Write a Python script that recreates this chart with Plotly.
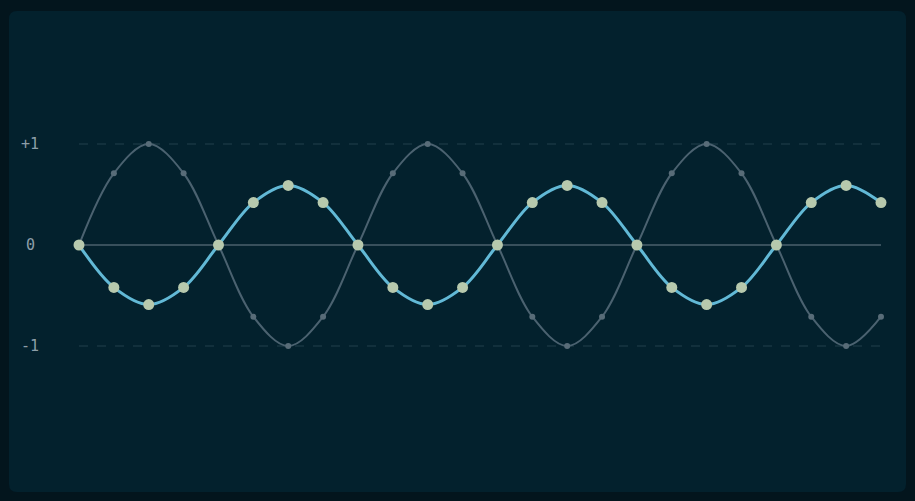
import plotly.graph_objects as go

x_index = list(range(24))
wave_a = [0, 0.71, 1, 0.71, 0, -0.71, -1, -0.71,
          0, 0.71, 1, 0.71, 0, -0.71, -1, -0.71,
          0, 0.71, 1, 0.71, 0, -0.71, -1, -0.71]
wave_b = [0, -0.42, -0.59, -0.42, 0, 0.42, 0.59, 0.42,
          0, -0.42, -0.59, -0.42, 0, 0.42, 0.59, 0.42,
          0, -0.42, -0.59, -0.42, 0, 0.42, 0.59, 0.42]
tick_vals = [1, 0, -1]
tick_text = ["+1", "0", "-1"]

W, H = 915, 501
L, R, T, B = 79, 34, 43, 54

fig = go.Figure()

fig.add_trace(go.Scatter(
    x=x_index, y=wave_a, mode="lines+markers", cliponaxis=False,
    line=dict(color="#4b6270", width=2, shape="spline", smoothing=1.0),
    marker=dict(color="#586c78", size=6),
    hoverinfo="skip", showlegend=False,
))
fig.add_trace(go.Scatter(
    x=x_index, y=wave_b, mode="lines+markers", cliponaxis=False,
    line=dict(color="#62b9d6", width=3, shape="spline", smoothing=1.0),
    marker=dict(color="#b7c9ad", size=11),
    hoverinfo="skip", showlegend=False,
))

def px(xp):
    return (xp - L) / (W - L - R)
def py(yp):
    return 1 - (yp - T) / (H - T - B)

x0, x1, y0, y1, r = 9, 906, 11, 492, 8
path = (f"M {px(x0+r)} {py(y0)} L {px(x1-r)} {py(y0)} "
        f"Q {px(x1)} {py(y0)} {px(x1)} {py(y0+r)} "
        f"L {px(x1)} {py(y1-r)} Q {px(x1)} {py(y1)} {px(x1-r)} {py(y1)} "
        f"L {px(x0+r)} {py(y1)} Q {px(x0)} {py(y1)} {px(x0)} {py(y1-r)} "
        f"L {px(x0)} {py(y0+r)} Q {px(x0)} {py(y0)} {px(x0+r)} {py(y0)} Z")
shapes = [dict(type="path", xref="paper", yref="paper", layer="below",
               path=path, fillcolor="#03212d", line=dict(width=0))]

for v in tick_vals:
    if v == 0:
        shapes.append(dict(type="line", xref="x", yref="y", layer="below",
                           x0=x_index[0], x1=x_index[-1], y0=0, y1=0,
                           line=dict(color="#4b616d", width=1.5)))
    else:
        shapes.append(dict(type="line", xref="x", yref="y", layer="below",
                           x0=x_index[0], x1=x_index[-1], y0=v, y1=v,
                           line=dict(color="#22404c", width=1, dash="dash")))

annotations = [
    dict(x=px(30), xref="paper", y=v, yref="y", text=t, showarrow=False,
         xanchor="center", yanchor="middle",
         font=dict(family="DejaVu Sans Mono", size=15, color="#8d9ea8"))
    for v, t in zip(tick_vals, tick_text)
]

fig.update_layout(
    width=W, height=H,
    margin=dict(l=L, r=R, t=T, b=B),
    paper_bgcolor="#03151d",
    plot_bgcolor="rgba(0,0,0,0)",
    xaxis=dict(range=[x_index[0], x_index[-1]], visible=False, fixedrange=True),
    yaxis=dict(range=[-2, 2], visible=False, fixedrange=True),
    shapes=shapes,
    annotations=annotations,
)

fig.write_html(
    "out.html",
    config={"displayModeBar": False},
    post_script="document.body.style.margin='0';document.body.style.background='#03151d';",
)
